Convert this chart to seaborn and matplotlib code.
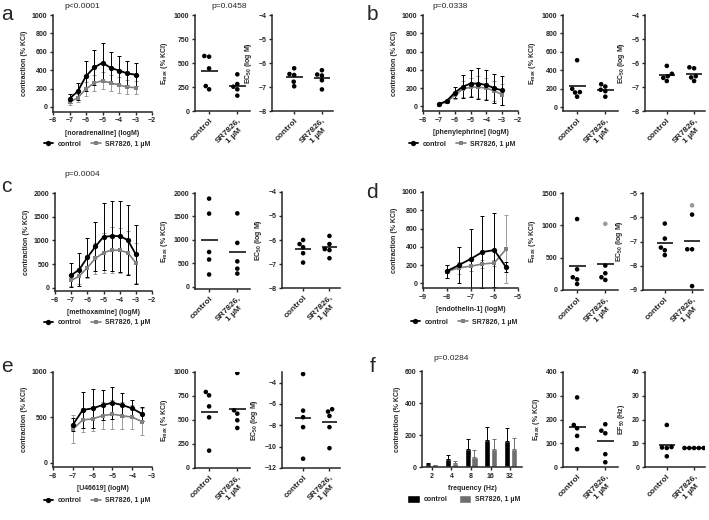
import numpy as np
import pandas as pd
import matplotlib
matplotlib.use('Agg')
import matplotlib.pyplot as plt
import seaborn as sns

sns.set_style('ticks')
plt.rcParams['font.family'] = ['Liberation Sans', 'DejaVu Sans']
plt.rcParams['font.weight'] = 'bold'
plt.rcParams['mathtext.fontset'] = 'custom'
plt.rcParams['mathtext.rm'] = 'Liberation Sans:bold'
plt.rcParams['mathtext.bf'] = 'Liberation Sans:bold'
plt.rcParams['axes.linewidth'] = 1.1

# ---- data ----
CTRL = 'control'
SR = 'SR7826,\n1 µM'
SR_LEG = 'SR7826, 1 µM'

# a: noradrenaline
conc_a = [-7, -6.5, -6, -5.5, -5, -4.5, -4, -3.5, -3]
ctrl_a = [90, 170, 335, 430, 480, 425, 395, 365, 350]
ctrl_a_sd = [50, 90, 165, 190, 210, 175, 155, 130, 125]
sr_a = [50, 100, 195, 260, 285, 260, 240, 215, 210]
sr_a_sd = [30, 45, 75, 90, 95, 90, 85, 80, 75]
emax_a_ctrl = [573, 566, 444, 260, 226]
emax_a_sr = [382, 281, 253, 226, 160]
ec50_a_ctrl = [-6.22, -6.46, -6.5, -6.78, -6.97]
ec50_a_sr = [-6.3, -6.48, -6.52, -6.72, -7.1]

# b: phenylephrine
conc_b = [-7, -6.5, -6, -5.5, -5, -4.5, -4, -3.5, -3]
ctrl_b = [25, 60, 150, 215, 250, 250, 235, 200, 175]
ctrl_b_sd = [5, 10, 60, 125, 145, 170, 165, 160, 155]
sr_b = [20, 50, 120, 190, 210, 210, 200, 170, 130]
sr_b_sd = [5, 10, 40, 90, 100, 120, 115, 110, 110]
emax_b_ctrl = [510, 200, 165, 160, 115]
emax_b_sr = [250, 225, 190, 175, 115]
ec50_b_ctrl = [-6.12, -6.45, -6.55, -6.62, -6.75]
ec50_b_sr = [-6.18, -6.22, -6.55, -6.6, -6.75]

# c: methoxamine
conc_c = [-7, -6.5, -6, -5.5, -5, -4.5, -4, -3.5, -3]
ctrl_c = [262, 383, 638, 870, 1075, 1090, 1090, 1007, 702]
ctrl_c_sd = [255, 340, 420, 520, 710, 745, 750, 745, 625]
sr_c = [156, 241, 425, 617, 738, 794, 790, 740, 525]
sr_c_sd = [110, 170, 230, 330, 420, 490, 480, 450, 420]
emax_c_ctrl = [1880, 1560, 740, 580, 260]
emax_c_sr = [1565, 935, 540, 385, 280]
ec50_c_ctrl = [-6.0, -6.17, -6.3, -6.55, -6.94]
ec50_c_sr = [-5.83, -6.17, -6.38, -6.42, -6.76]

# d: endothelin-1
conc_d = [-8, -7.5, -7, -6.5, -6, -5.5]
ctrl_d = [134, 199, 267, 343, 365, 177]
ctrl_d_sd = [72, 198, 325, 390, 400, 55]
sr_d = [130, 170, 188, 213, 224, 375]
sr_d_sd = [70, 65, 55, 40, 35, 370]
emax_d_ctrl = [1097, 320, 197, 165, 93]
emax_d_sr = [378, 259, 197, 155]
emax_d_sr_grey = [1024]
ec50_d_ctrl = [-6.26, -6.88, -7.25, -7.36, -7.56]
ec50_d_sr = [-5.89, -7.32, -7.32, -8.84]
ec50_d_sr_grey = [-5.51]

# e: U46619
conc_e = [-7, -6.5, -6, -5.5, -5, -4.5, -4, -3.5]
ctrl_e = [418, 582, 600, 636, 662, 636, 600, 538]
ctrl_e_sd = [72, 200, 211, 164, 174, 135, 91, 80]
sr_e = [371, 473, 484, 520, 535, 520, 502, 455]
sr_e_sd = [155, 130, 130, 150, 160, 145, 130, 150]
emax_e_ctrl = [792, 757, 642, 528, 181]
emax_e_sr = [990, 601, 566, 497, 417]
ec50_e_ctrl = [-3.19, -6.62, -7.24, -8.17, -11.13]
ec50_e_sr = [-6.49, -6.71, -7.12, -8.17, -10.14]

# f: electric field stimulation
freq = ['2', '4', '8', '16', '32']
bar_ctrl = [17, 48, 110, 167, 165]
bar_ctrl_sd = [8, 29, 67, 83, 78]
bar_sr = [10, 25, 65, 110, 115]
bar_sr_sd = [5, 13, 40, 67, 66]
emax_f_ctrl = [293, 177, 163, 131, 75]
emax_f_sr = [180, 153, 142, 54, 20]
ef50_f_ctrl = [17.7, 8.4, 8.2, 8.0, 4.5]
ef50_f_sr = [8.0, 8.0, 8.0, 8.0, 8.0]

GREY = '#808080'
FS = 5

W, H = 709, 520
fig = plt.figure(figsize=(W / 100, H / 100), dpi=100)


def add_ax(left, top, right, bottom):
    return fig.add_axes([left / W, 1 - bottom / H, (right - left) / W, (bottom - top) / H])


def style(ax):
    sns.despine(ax=ax)
    ax.tick_params(labelsize=FS, width=1.0, length=2.5, pad=1.5)
    for t in ax.get_xticklabels() + ax.get_yticklabels():
        t.set_fontweight('bold')


def curve_panel(ax, conc, ctrl, ctrl_sd, sr, sr_sd, xlim, ylim, yticks, xlabel, leg_xy):
    ax.errorbar(conc, sr, yerr=sr_sd, fmt='none', ecolor='#9a9a9a', elinewidth=0.7,
                capsize=1.5, capthick=0.7)
    ax.errorbar(conc, ctrl, yerr=ctrl_sd, fmt='none', ecolor='black', elinewidth=0.7,
                capsize=1.5, capthick=0.7)
    sns.lineplot(x=conc, y=sr, color=GREY, marker='s', markersize=3.5, markeredgewidth=0,
                 linewidth=1.2, ax=ax, label=SR_LEG)
    sns.lineplot(x=conc, y=ctrl, color='black', marker='o', markersize=3.8, markeredgewidth=0,
                 linewidth=1.3, ax=ax, label=CTRL)
    ax.set_xlim(*xlim)
    ax.set_xticks(range(int(xlim[0]), int(xlim[1]) + 1))
    ax.set_ylim(*ylim)
    ax.set_yticks(yticks)
    ax.set_xlabel(xlabel, fontsize=FS, fontweight='bold', labelpad=4)
    ax.set_ylabel('contraction (% KCl)', fontsize=FS, fontweight='bold', labelpad=3)
    h, l = ax.get_legend_handles_labels()
    order = [l.index(CTRL), l.index(SR_LEG)]
    ax.legend([h[i] for i in order], [l[i] for i in order], loc='center',
              bbox_to_anchor=(leg_xy[0] / W, 1 - leg_xy[1] / H), bbox_transform=fig.transFigure,
              ncol=2, frameon=False, prop={'size': FS, 'weight': 'bold'}, handlelength=1.4,
              handletextpad=0.6, columnspacing=1.4, borderpad=0)
    style(ax)


def scatter_panel(ax, ctrl, sr, ylim, yticks, ylabel, xlim, sr_grey=()):
    n_c, n_s, n_g = len(ctrl), len(sr), len(sr_grey)
    df = pd.DataFrame({
        'group': [CTRL] * n_c + [SR] * (n_s + n_g),
        'value': list(ctrl) + list(sr) + list(sr_grey),
        'flag': ['n'] * (n_c + n_s) + ['g'] * n_g,
    })
    sns.swarmplot(data=df, x='group', y='value', hue='flag', order=[CTRL, SR],
                  palette={'n': 'black', 'g': '#9a9a9a'}, size=3.3, linewidth=0,
                  legend=False, ax=ax)
    for i, vals in enumerate([list(ctrl), list(sr) + list(sr_grey)]):
        ax.hlines(np.mean(vals), i - 0.3, i + 0.3, color='black', linewidth=1.1)
    ax.set_xlim(*xlim)
    ax.set_ylim(*ylim)
    ax.set_yticks(yticks)
    ax.set_xlabel('')
    ax.set_ylabel(ylabel, fontsize=FS, fontweight='bold', labelpad=3)
    style(ax)
    for t in ax.get_xticklabels():
        t.set_fontsize(6)
        t.set_rotation(45)
        t.set_ha('right')
        t.set_va('top')
        t.set_rotation_mode('anchor')
        t.set_multialignment('center')


EMAX = r'E$_{\mathbf{max}}$ (% KCl)'
EC50 = r'EC$_{\mathbf{50}}$ (log M)'
EF50 = r'EF$_{\mathbf{50}}$ (Hz)'
XE = (-0.5, 1.45)
XC = (-0.8, 1.4)

# row 1
ax = add_ax(53, 15, 152, 111.5)
curve_panel(ax, conc_a, ctrl_a, ctrl_a_sd, sr_a, sr_a_sd, (-8, -2), (-50, 1000),
            range(0, 1001, 200), '[noradrenaline] (logM)', (97, 144))
ax = add_ax(195, 15, 250, 111)
scatter_panel(ax, emax_a_ctrl, emax_a_sr, (0, 1000), [0, 250, 500, 750, 1000], EMAX, XE)
ax = add_ax(272, 15, 333, 111)
scatter_panel(ax, ec50_a_ctrl, ec50_a_sr, (-8, -4), range(-8, -3), EC50, XC)

ax = add_ax(423, 15, 518, 111)
curve_panel(ax, conc_b, ctrl_b, ctrl_b_sd, sr_b, sr_b_sd, (-8, -2), (-50, 1000),
            range(0, 1001, 200), '[phenylephrine] (logM)', (462, 144))
ax = add_ax(563, 15, 618, 111)
scatter_panel(ax, emax_b_ctrl, emax_b_sr, (-40, 1000), range(0, 1001, 200), EMAX, XE)
ax = add_ax(645, 15, 705, 111)
scatter_panel(ax, ec50_b_ctrl, ec50_b_sr, (-8, -4), range(-8, -3), EC50, XC)

# row 2
ax = add_ax(55, 193, 152, 291)
curve_panel(ax, conc_c, ctrl_c, ctrl_c_sd, sr_c, sr_c_sd, (-8, -2), (-70, 2000),
            range(0, 2001, 500), '[methoxamine] (logM)', (97, 323))
ax = add_ax(195, 193, 250, 289)
scatter_panel(ax, emax_c_ctrl, emax_c_sr, (-50, 2000), range(0, 2001, 500), EMAX, XE)
ax = add_ax(282, 192, 340, 288)
scatter_panel(ax, ec50_c_ctrl, ec50_c_sr, (-8, -4), range(-8, -3), EC50, XC)

ax = add_ax(423, 192, 518, 288)
curve_panel(ax, conc_d, ctrl_d, ctrl_d_sd, sr_d, sr_d_sd, (-9, -5), (-50, 1000),
            range(0, 1001, 200), '[endothelin-1] (logM)', (464, 322))
ax = add_ax(563, 193, 618, 290)
scatter_panel(ax, emax_d_ctrl, emax_d_sr, (0, 1500), range(0, 1501, 500), EMAX, XE,
              sr_grey=emax_d_sr_grey)
ax = add_ax(643, 193, 703, 290)
scatter_panel(ax, ec50_d_ctrl, ec50_d_sr, (-9, -5), range(-9, -4), EC50, XC,
              sr_grey=ec50_d_sr_grey)

# row 3
ax = add_ax(53, 372, 152, 467)
curve_panel(ax, conc_e, ctrl_e, ctrl_e_sd, sr_e, sr_e_sd, (-8, -3), (-45, 1000),
            [0, 500, 1000], '[U46619] (logM)', (97, 501))
ax = add_ax(195, 372, 250, 468)
scatter_panel(ax, emax_e_ctrl, emax_e_sr, (0, 1000), [0, 250, 500, 750, 1000], EMAX, XE)
ax = add_ax(282, 372, 340, 468)
scatter_panel(ax, ec50_e_ctrl, ec50_e_sr, (-12, -3), range(-12, -3, 2), EC50, XC)

# f: bars
ax = add_ax(422, 371, 522, 467)
df_f = pd.DataFrame({
    'freq': freq * 2,
    'value': bar_ctrl + bar_sr,
    'group': [CTRL] * len(freq) + [SR_LEG] * len(freq),
})
sns.barplot(data=df_f, x='freq', y='value', hue='group', palette=['black', '#6e6e6e'],
            width=0.7, gap=0.1, ax=ax)
for cont, sds, col in zip(ax.containers, [bar_ctrl_sd, bar_sr_sd], ['black', '#6e6e6e']):
    for bar, sd in zip(cont, sds):
        ax.errorbar(bar.get_x() + bar.get_width() / 2, bar.get_height(), yerr=[[0], [sd]],
                    fmt='none', ecolor=col, elinewidth=0.7, capsize=1.5, capthick=0.7)
ax.set_xlim(-0.5, 4.6)
ax.set_ylim(0, 600)
ax.set_yticks(range(0, 601, 200))
ax.set_xlabel('frequency (Hz)', fontsize=FS, fontweight='bold', labelpad=4)
ax.set_ylabel('contraction (% KCl)', fontsize=FS, fontweight='bold', labelpad=3)
h, l = ax.get_legend_handles_labels()
ax.legend(h, l, loc='center', bbox_to_anchor=(464 / W, 1 - 499 / H),
          bbox_transform=fig.transFigure, ncol=2, frameon=False,
          prop={'size': FS, 'weight': 'bold'}, handlelength=1.8, handleheight=1.3,
          handletextpad=0.6, columnspacing=1.6, borderpad=0)
style(ax)

ax = add_ax(563, 372, 618, 467)
scatter_panel(ax, emax_f_ctrl, emax_f_sr, (0, 400), range(0, 401, 100), EMAX, XE)
ax = add_ax(645, 372, 705, 467)
scatter_panel(ax, ef50_f_ctrl, ef50_f_sr, (0, 40), range(0, 41, 10), EF50, XC)

# p values and panel letters
for x, y, s in [(82, 6, 'p<0.0001'), (229, 6, 'p=0.0458'), (450, 6, 'p=0.0338'),
                (82, 175, 'p=0.0004'), (451, 359, 'p=0.0284')]:
    fig.text(x / W, 1 - y / H, s, fontsize=6, fontweight='normal', ha='center', va='center')

for x, y, s in [(1, 14, 'a'), (367, 14, 'b'), (1, 186, 'c'), (366, 192, 'd'),
                (1, 367, 'e'), (370, 367, 'f')]:
    fig.text(x / W, 1 - y / H, s, fontsize=15, fontweight='normal', ha='left', va='center')

fig.savefig('out.png', dpi=100)
